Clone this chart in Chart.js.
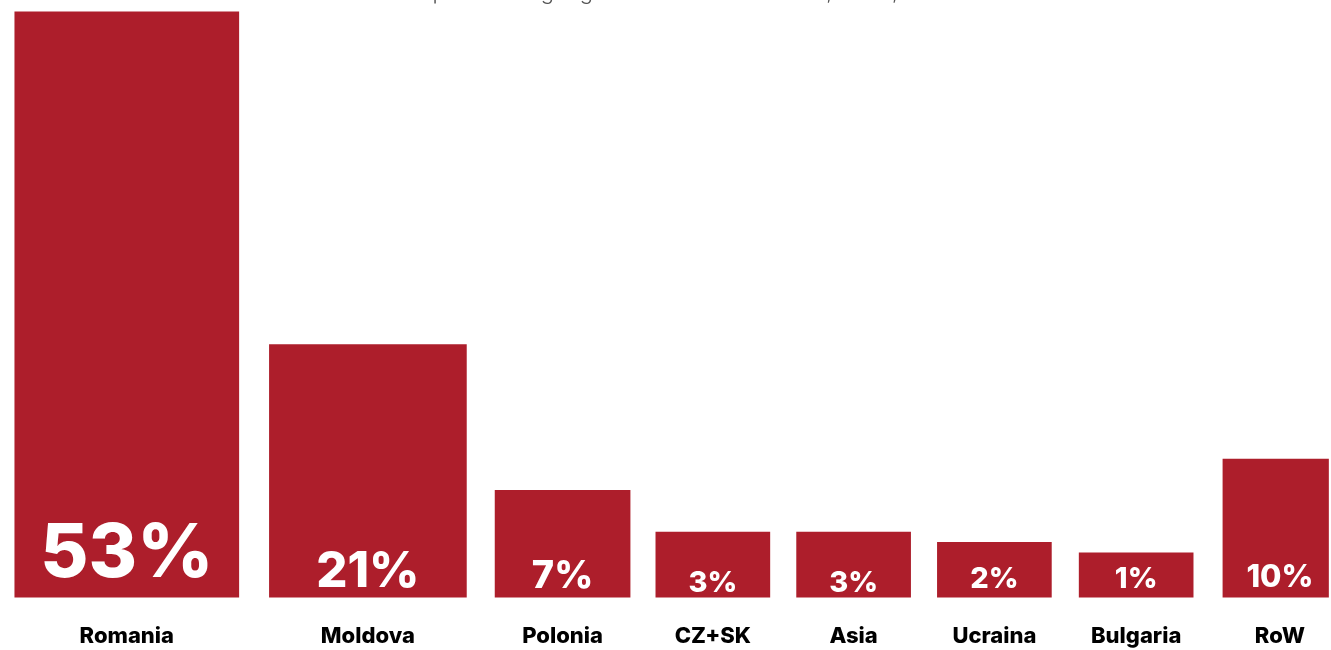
<!DOCTYPE html>
<html>
<head>
<meta charset="utf-8">
<script src="https://cdn.jsdelivr.net/npm/chart.js@4/dist/chart.umd.min.js"></script>
<style>
  html, body { margin: 0; padding: 0; background: #fff; overflow: hidden; }
  #wrap { position: absolute; left: 0; top: -30px; width: 1331px; height: 706px; }
</style>
</head>
<body>
<div id="wrap"><canvas id="geo-chart"></canvas></div>
<script>
const categories = ["Romania", "Moldova", "Polonia", "CZ+SK", "Asia", "Ucraina", "Bulgaria", "RoW"];
const shares = [53, 21, 7, 3, 3, 2, 1, 10];
const valueLabels = ["53%", "21%", "7%", "3%", "3%", "2%", "1%", "10%"];
const titleText = "Repartizarea geografică a vânzărilor nete, 2023, %";

// layout / style only
const barWidths = [224, 197, 135, 114, 114, 114, 114, 114];
const gapsBefore = [15, 31, 29, 26, 27, 27, 28, 30];
const labelSizes = [74, 49, 38, 29, 29, 29, 29, 31];
const labelLift = [21, 11, 10, 6, 6, 10, 10, 11];
const RED = "#ad1e2b";
const Y_MIN = -3.3;

// bar centres from widths and gaps
const centres = [];
let cursor = 0;
barWidths.forEach((w, i) => {
  cursor += gapsBefore[i];
  centres.push(cursor + w / 2);
  cursor += w;
});

const datasets = categories.map((name, i) => ({
  label: name,
  data: [{ x: centres[i], y: shares[i] }],
  backgroundColor: RED,
  barThickness: barWidths[i],
  base: Y_MIN,
  grouped: false,
  borderWidth: 0,
}));

const valueLabelPlugin = {
  id: "valueLabels",
  afterDatasetsDraw(chart) {
    const ctx = chart.ctx;
    ctx.save();
    ctx.fillStyle = "#ffffff";
    ctx.textAlign = "center";
    ctx.textBaseline = "alphabetic";
    chart.data.datasets.forEach((ds, i) => {
      const el = chart.getDatasetMeta(i).data[0];
      if (!el) return;
      ctx.font = `800 ${labelSizes[i]}px Inter, "Noto Sans", sans-serif`;
      ctx.fillText(valueLabels[i], el.x, el.base - labelLift[i]);
    });
    ctx.restore();
  },
};

const ctx = document.getElementById("geo-chart").getContext("2d");
new Chart(ctx, {
  type: "bar",
  data: { datasets: datasets },
  options: {
    responsive: true,
    maintainAspectRatio: false,
    animation: false,
    layout: { padding: 0 },
    plugins: {
      legend: { display: false },
      tooltip: { enabled: false },
      title: {
        display: true,
        text: titleText,
        color: "#555555",
        font: { family: "Inter, 'Noto Sans', sans-serif", size: 22, weight: 300 },
        padding: { top: 9, bottom: 6 },
      },
    },
    scales: {
      x: {
        type: "linear",
        min: 0,
        max: 1331,
        offset: false,
        grid: { display: false, drawTicks: false },
        border: { display: false },
        afterBuildTicks(axis) {
          axis.ticks = centres.map((c) => ({ value: c }));
        },
        ticks: {
          autoSkip: false,
          maxRotation: 0,
          padding: 26,
          color: "#000000",
          font: { family: "Inter, 'Noto Sans', sans-serif", size: 22, weight: 800 },
          callback: (val, idx) => categories[idx],
        },
      },
      y: {
        display: false,
        min: Y_MIN,
        max: 53,
      },
    },
  },
  plugins: [valueLabelPlugin],
});
</script>
</body>
</html>
